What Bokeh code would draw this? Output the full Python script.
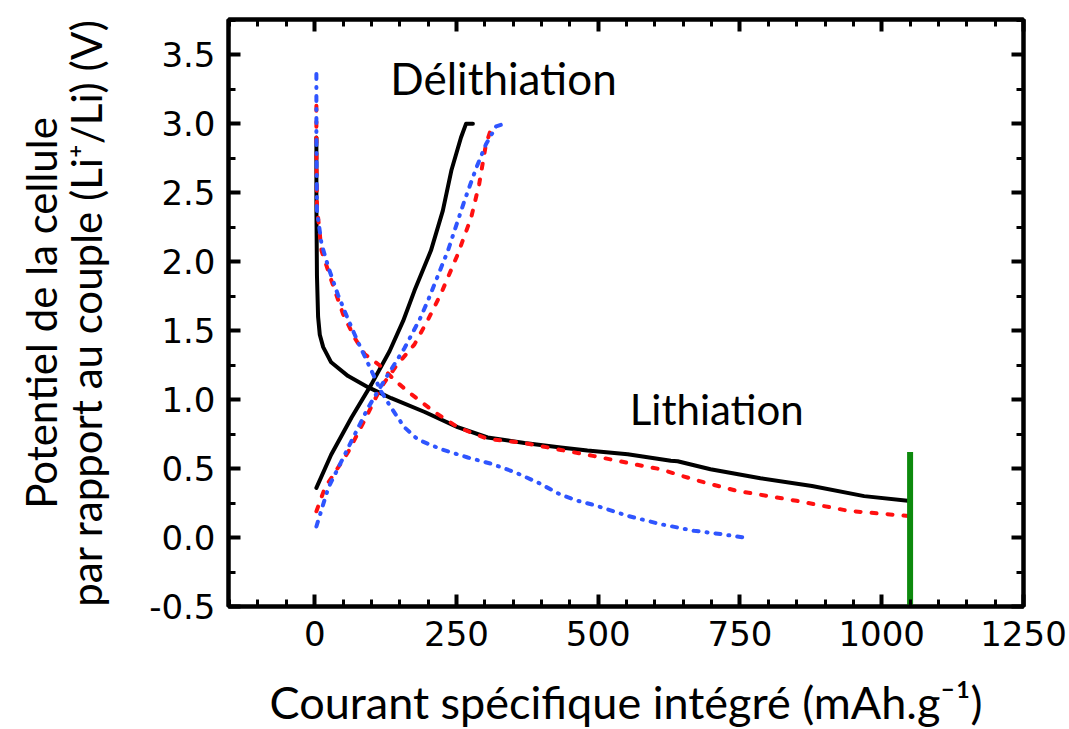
from bokeh.plotting import figure
from bokeh.models import Range1d, LinearAxis, SingleIntervalTicker, NumeralTickFormatter, Label
from bokeh.embed import file_html
from bokeh.resources import INLINE

# ---- data (capacity in mAh/g, potential in V) ----
black_lith_x = [3, 3, 4, 6, 9, 15, 29, 59, 94, 135, 194, 252, 305, 370, 434, 481, 552, 628, 640, 698, 786, 877, 969, 1050]
black_lith_v = [2.90, 2.40, 1.90, 1.60, 1.47, 1.38, 1.27, 1.17, 1.09, 1.01, 0.91, 0.80, 0.725, 0.685, 0.652, 0.63, 0.604, 0.556, 0.553, 0.495, 0.43, 0.374, 0.30, 0.265]
black_delith_x = [3, 29, 65, 100, 132, 156, 176, 205, 226, 241, 258, 267, 279]
black_delith_v = [0.36, 0.60, 0.87, 1.11, 1.35, 1.57, 1.79, 2.08, 2.37, 2.66, 2.90, 3.0, 3.0]

red_lith_x = [3, 3, 4, 12, 28, 50, 70, 88, 117, 141, 164, 211, 252, 305, 370, 434, 493, 569, 610, 669, 710, 745, 786, 850, 942, 1050]
red_lith_v = [3.13, 2.80, 2.40, 2.08, 1.88, 1.62, 1.45, 1.33, 1.24, 1.14, 1.06, 0.91, 0.80, 0.715, 0.685, 0.635, 0.59, 0.527, 0.495, 0.42, 0.375, 0.338, 0.31, 0.266, 0.193, 0.155]
red_delith_x = [3, 18, 59, 88, 117, 145, 176, 200, 223, 252, 276, 290, 302, 314]
red_delith_v = [0.19, 0.36, 0.62, 0.85, 1.09, 1.25, 1.40, 1.58, 1.77, 2.05, 2.32, 2.56, 2.85, 3.0]

blue_lith_x = [3, 3, 4, 12, 24, 41, 58, 76, 100, 117, 135, 158, 182, 223, 270, 311, 352, 393, 434, 465, 493, 552, 610, 669, 716, 757]
blue_lith_v = [3.36, 2.90, 2.37, 2.13, 1.96, 1.76, 1.59, 1.42, 1.21, 1.06, 0.94, 0.80, 0.71, 0.64, 0.58, 0.535, 0.475, 0.40, 0.31, 0.265, 0.235, 0.157, 0.097, 0.049, 0.025, 0.0]
blue_delith_x = [3, 24, 59, 94, 129, 158, 185, 200, 235, 264, 285, 302, 320, 335]
blue_delith_v = [0.08, 0.36, 0.65, 0.94, 1.18, 1.37, 1.58, 1.72, 2.08, 2.44, 2.68, 2.85, 2.98, 3.0]

cutoff_x = [1050]
cutoff_v_low = [-0.5]
cutoff_v_high = [0.62]

annot_text = ["Délithiation", "Lithiation"]
annot_x = [333, 709]
annot_y = [3.33, 0.928]

x_range = (-152, 1250)
y_range = (-0.5, 3.755)
x_tick_step = 250
y_tick_step = 0.5

x_label = "Courant spécifique intégré (mAh.g\u207b\u00b9)"
y_label = "Potentiel de la cellule\npar rapport au couple (Li\u207a/Li) (V)"

LABEL_FONT = "Lato"
TICK_FONT = "DejaVu Sans"

p = figure(frame_width=795, frame_height=587, output_backend="svg", toolbar_location=None,
           x_range=Range1d(*x_range), y_range=Range1d(*y_range),
           x_axis_type=None, y_axis_type=None,
           min_border_left=228, min_border_right=45, min_border_top=19, min_border_bottom=122)
p.xgrid.visible = False
p.ygrid.visible = False
p.outline_line_color = "black"
p.outline_line_width = 4
p.background_fill_color = "white"
p.border_fill_color = "white"


def make_axis(ticker, show_labels, fmt=None):
    ax = LinearAxis(ticker=ticker)
    if fmt is not None:
        ax.formatter = fmt
    ax.axis_line_width = 4
    ax.axis_line_color = "black"
    ax.major_tick_in = 12
    ax.major_tick_out = 0
    ax.minor_tick_in = 7
    ax.minor_tick_out = 0
    ax.major_tick_line_width = 4
    ax.minor_tick_line_width = 3
    ax.major_tick_line_color = "black"
    ax.minor_tick_line_color = "black"
    if show_labels:
        ax.major_label_text_font = TICK_FONT
        ax.major_label_text_font_size = "34px"
        ax.major_label_text_color = "black"
    else:
        ax.major_label_text_font_size = "0px"
        ax.major_label_text_alpha = 0
        ax.major_label_standoff = 0
    return ax


xt = SingleIntervalTicker(interval=x_tick_step, num_minor_ticks=5)
yt = SingleIntervalTicker(interval=y_tick_step, num_minor_ticks=2)

xb = make_axis(xt, True)
xb.major_label_standoff = 14
xb.axis_label = x_label
xb.axis_label_text_font = LABEL_FONT
xb.axis_label_text_font_size = "45px"
xb.axis_label_text_font_style = "normal"
xb.axis_label_text_color = "black"
xb.axis_label_text_line_height = 0.9
xb.axis_label_standoff = 26
p.add_layout(xb, "below")

yl = make_axis(yt, True, NumeralTickFormatter(format="0.0"))
yl.major_label_standoff = 13
yl.axis_label = y_label
yl.axis_label_text_font = LABEL_FONT
yl.axis_label_text_font_size = "42px"
yl.axis_label_text_font_style = "normal"
yl.axis_label_text_color = "black"
yl.axis_label_text_line_height = 0.9
yl.axis_label_standoff = 35
p.add_layout(yl, "left")

p.add_layout(make_axis(SingleIntervalTicker(interval=x_tick_step, num_minor_ticks=5), False), "above")
p.add_layout(make_axis(SingleIntervalTicker(interval=y_tick_step, num_minor_ticks=2), False), "right")

common = dict(line_width=4, line_cap="round", line_join="round")
p.line(black_lith_x, black_lith_v, line_color="black", **common)
p.line(black_delith_x, black_delith_v, line_color="black", **common)
p.line(red_lith_x, red_lith_v, line_color="#ff1010", line_dash="5 11", **common)
p.line(red_delith_x, red_delith_v, line_color="#ff1010", line_dash="5 11", **common)
p.line(blue_lith_x, blue_lith_v, line_color="#2f55ff", line_dash="5 8 1 8", **common)
p.line(blue_delith_x, blue_delith_v, line_color="#2f55ff", line_dash="5 8 1 8", **common)

p.segment(x0=cutoff_x, y0=cutoff_v_low, x1=cutoff_x, y1=cutoff_v_high, line_color="#0d8a0d", line_width=6)

sizes = ["44px", "42px"]
for t, ax_, ay_, fs in zip(annot_text, annot_x, annot_y, sizes):
    p.add_layout(Label(x=ax_, y=ay_, text=t, text_align="center", text_baseline="alphabetic",
                       text_font=LABEL_FONT, text_font_size=fs, text_color="black"))

open("out.html", "w").write(file_html(p, INLINE))
